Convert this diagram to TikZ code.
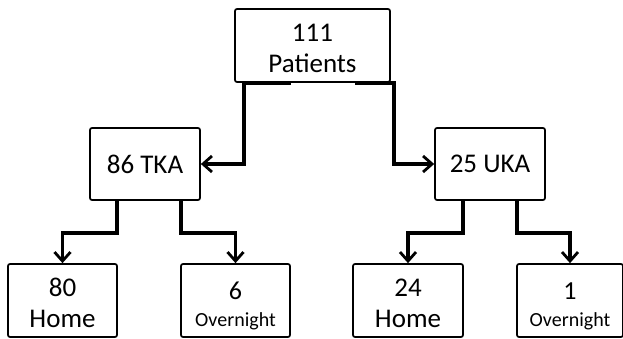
\documentclass[tikz,border=0pt]{standalone}
\usepackage{fontspec}
\setmainfont{Carlito}
\usetikzlibrary{arrows.meta}
\tikzset{
  box/.style={draw, line width=1.7pt, rounded corners=2pt, align=center, inner sep=0pt,
    font=\fontsize{27}{31}\selectfont},
  obox/.style={box, font=\fontsize{26}{27}\selectfont},
  conn/.style={line width=3.4pt, -{Straight Barb[length=9pt,width=16pt,line width=2.8pt]}}
}
\begin{document}
\begin{tikzpicture}[x=1pt,y=-1pt]
\useasboundingbox (0,0) rectangle (623,339);
\node[box, minimum width=155pt, minimum height=73pt] (top) at (312.5,45.5) {\rule{0pt}{24pt}111\\Patients};
\node[box, minimum width=110pt, minimum height=72pt] (tka) at (145,164) {86 TKA};
\node[box, minimum width=110pt, minimum height=72pt] (uka) at (490,164) {25 UKA};
\node[box, minimum width=109pt, minimum height=73pt] (h1) at (62.5,300.5) {\rule{0pt}{24pt}80\\Home};
\node[obox, minimum width=109pt, minimum height=73pt] (o1) at (235.5,300.5) {\rule{0pt}{27.5pt}6\\{\fontsize{20}{27}\selectfont Overnight}};
\node[box, minimum width=110pt, minimum height=73pt] (h2) at (408,300.5) {\rule{0pt}{24pt}24\\Home};
\node[obox, minimum width=106pt, minimum height=73pt] (o2) at (570,300.5) {\rule{0pt}{27.5pt}1\\{\fontsize{20}{27}\selectfont Overnight}};
\draw[conn] ([xshift=-22pt]top.south) -- ([xshift=10pt]top.south west) |- (tka.east);
\draw[conn] ([xshift=42pt]top.south) -- ([xshift=3pt]top.south east) |- (uka.west);
\draw[conn] ([xshift=-28pt]tka.south) -- ++(0,32) -| (h1.north);
\draw[conn] ([xshift=36pt]tka.south) -- ++(0,32) -| (o1.north);
\draw[conn] ([xshift=-27pt]uka.south) -- ++(0,32) -| (h2.north);
\draw[conn] ([xshift=27pt]uka.south) -- ++(0,32) -| (o2.north);
\end{tikzpicture}
\end{document}
